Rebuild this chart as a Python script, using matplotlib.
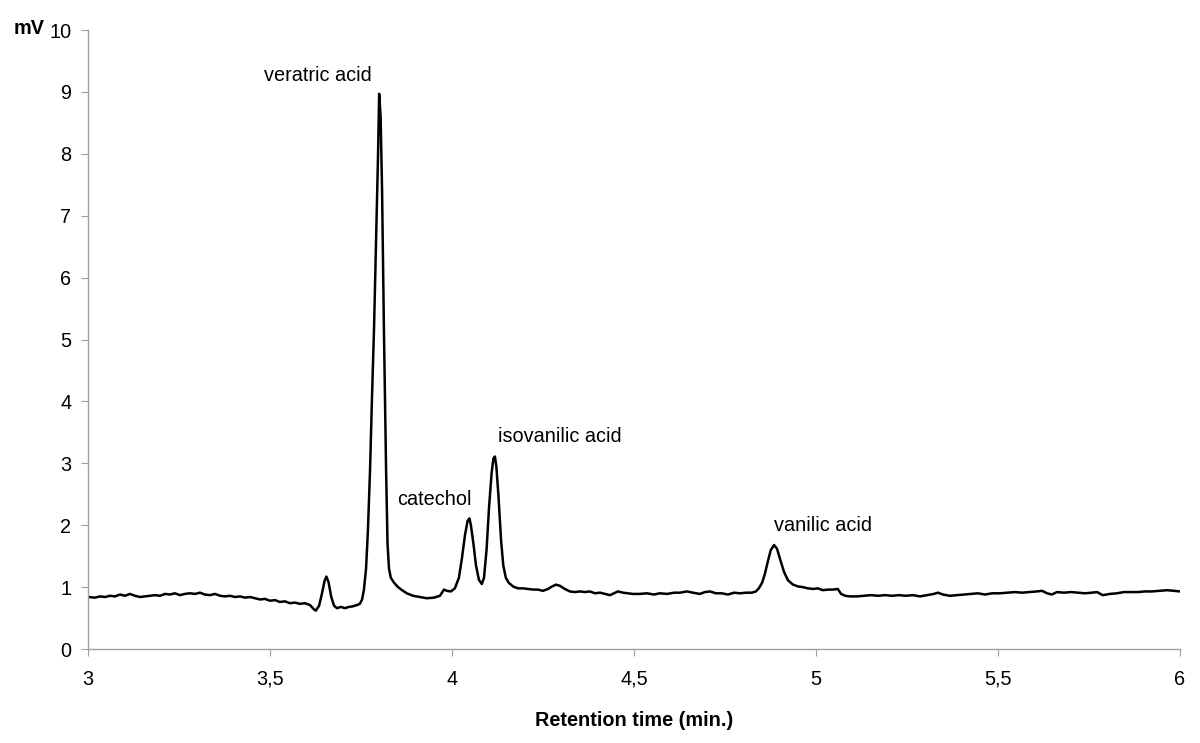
import matplotlib
matplotlib.use("Agg")
import matplotlib.pyplot as plt

plt.rcParams['font.family'] = ['Liberation Sans', 'DejaVu Sans']

# chromatogram trace (time in min, signal in mV)
time = [3.000, 3.019, 3.033, 3.047, 3.060, 3.074, 3.088, 3.102, 3.115, 3.129,
        3.143, 3.157, 3.170, 3.184, 3.198, 3.212, 3.225, 3.239, 3.253, 3.266,
        3.280, 3.294, 3.308, 3.321, 3.335, 3.349, 3.363, 3.376, 3.390, 3.404,
        3.418, 3.431, 3.445, 3.459, 3.473, 3.486, 3.500, 3.514, 3.527, 3.541,
        3.555, 3.569, 3.582, 3.596, 3.610, 3.621, 3.626, 3.635, 3.643, 3.650,
        3.655, 3.661, 3.668, 3.676, 3.684, 3.695, 3.706, 3.717, 3.728, 3.739,
        3.747, 3.753, 3.758, 3.764, 3.769, 3.775, 3.780, 3.786, 3.791, 3.797,
        3.800, 3.804, 3.808, 3.813, 3.819, 3.823, 3.827, 3.832, 3.841, 3.852,
        3.863, 3.876, 3.893, 3.912, 3.931, 3.951, 3.967, 3.978, 3.986, 3.997,
        4.008, 4.019, 4.027, 4.036, 4.043, 4.048, 4.052, 4.059, 4.066, 4.074,
        4.082, 4.088, 4.095, 4.102, 4.109, 4.114, 4.118, 4.122, 4.128, 4.135,
        4.141, 4.148, 4.156, 4.168, 4.181, 4.195, 4.209, 4.223, 4.236, 4.250,
        4.264, 4.275, 4.286, 4.297, 4.310, 4.324, 4.338, 4.352, 4.365, 4.379,
        4.393, 4.407, 4.420, 4.434, 4.445, 4.456, 4.470, 4.484, 4.497, 4.516,
        4.536, 4.555, 4.571, 4.591, 4.610, 4.626, 4.646, 4.662, 4.681, 4.695,
        4.709, 4.725, 4.742, 4.758, 4.775, 4.791, 4.808, 4.824, 4.835, 4.843,
        4.852, 4.860, 4.868, 4.876, 4.885, 4.893, 4.901, 4.912, 4.923, 4.937,
        4.951, 4.964, 4.978, 4.992, 5.005, 5.019, 5.033, 5.047, 5.060, 5.069,
        5.080, 5.093, 5.113, 5.132, 5.151, 5.170, 5.190, 5.209, 5.228, 5.247,
        5.266, 5.286, 5.305, 5.324, 5.335, 5.349, 5.368, 5.387, 5.407, 5.426,
        5.445, 5.464, 5.484, 5.505, 5.527, 5.547, 5.566, 5.588, 5.607, 5.621,
        5.635, 5.648, 5.662, 5.681, 5.701, 5.720, 5.739, 5.758, 5.772, 5.788,
        5.808, 5.827, 5.846, 5.865, 5.885, 5.904, 5.923, 5.945, 5.964, 5.984,
        6.000]
signal = [0.84, 0.83, 0.85, 0.84, 0.86, 0.85, 0.88, 0.86, 0.89, 0.86,
          0.84, 0.85, 0.86, 0.87, 0.86, 0.89, 0.88, 0.90, 0.87, 0.89,
          0.90, 0.89, 0.91, 0.88, 0.87, 0.89, 0.86, 0.85, 0.86, 0.84,
          0.85, 0.83, 0.84, 0.82, 0.80, 0.81, 0.78, 0.79, 0.76, 0.77,
          0.74, 0.75, 0.73, 0.74, 0.71, 0.64, 0.62, 0.70, 0.90, 1.10,
          1.17, 1.08, 0.85, 0.70, 0.66, 0.68, 0.66, 0.68, 0.69, 0.71,
          0.73, 0.80, 0.95, 1.30, 1.90, 2.90, 4.00, 5.20, 6.50, 8.00,
          8.97, 8.60, 7.40, 5.20, 2.90, 1.70, 1.30, 1.15, 1.07, 1.00,
          0.95, 0.90, 0.86, 0.84, 0.82, 0.83, 0.86, 0.96, 0.94, 0.93,
          0.98, 1.15, 1.45, 1.85, 2.07, 2.11, 2.00, 1.70, 1.35, 1.12,
          1.05, 1.15, 1.60, 2.30, 2.85, 3.08, 3.11, 2.95, 2.45, 1.75,
          1.35, 1.15, 1.07, 1.01, 0.98, 0.98, 0.97, 0.96, 0.96, 0.94,
          0.97, 1.01, 1.04, 1.02, 0.97, 0.93, 0.92, 0.93, 0.92, 0.93,
          0.90, 0.91, 0.89, 0.87, 0.90, 0.93, 0.91, 0.90, 0.89, 0.89,
          0.90, 0.88, 0.90, 0.89, 0.91, 0.91, 0.93, 0.91, 0.89, 0.92,
          0.93, 0.90, 0.90, 0.88, 0.91, 0.90, 0.91, 0.91, 0.93, 0.98,
          1.07, 1.22, 1.42, 1.60, 1.68, 1.62, 1.46, 1.25, 1.11, 1.04,
          1.01, 1.00, 0.98, 0.97, 0.98, 0.95, 0.96, 0.96, 0.97, 0.89,
          0.86, 0.85, 0.85, 0.86, 0.87, 0.86, 0.87, 0.86, 0.87, 0.86,
          0.87, 0.85, 0.87, 0.89, 0.91, 0.88, 0.86, 0.87, 0.88, 0.89,
          0.90, 0.88, 0.90, 0.90, 0.91, 0.92, 0.91, 0.92, 0.93, 0.94,
          0.90, 0.88, 0.92, 0.91, 0.92, 0.91, 0.90, 0.91, 0.92, 0.87,
          0.89, 0.90, 0.92, 0.92, 0.92, 0.93, 0.93, 0.94, 0.95, 0.94,
          0.93]

# peak labels
peak_names = ["veratric acid", "catechol", "isovanilic acid", "vanilic acid"]
label_x = [3.632, 3.953, 4.297, 5.019]
label_y = [9.27, 2.42, 3.44, 2.00]

xticks = [3, 3.5, 4, 4.5, 5, 5.5, 6]
xtick_labels = ["3", "3,5", "4", "4,5", "5", "5,5", "6"]
yticks = list(range(0, 11))

fs = 14.3

fig = plt.figure(figsize=(12, 7.43), dpi=100)
ax = fig.add_axes([0.0733, 0.1265, 0.91, 0.8331])

ax.plot(time, signal, color="black", linewidth=1.8)

for name, x, y in zip(peak_names, label_x, label_y):
    ax.text(x, y, name, ha="center", va="center", fontsize=fs)

ax.set_xlim(3, 6)
ax.set_ylim(0, 10)
ax.set_xticks(xticks)
ax.set_xticklabels(xtick_labels)
ax.set_yticks(yticks)

for side in ["top", "right"]:
    ax.spines[side].set_visible(False)
for side in ["left", "bottom"]:
    ax.spines[side].set_color("#a0a0a0")
    ax.spines[side].set_linewidth(1.0)
ax.tick_params(axis="both", direction="out", length=5, color="#a0a0a0",
               labelsize=fs)
ax.tick_params(axis="x", pad=10)
ax.tick_params(axis="y", pad=7)

ax.set_xlabel("Retention time (min.)", fontsize=fs, fontweight="bold", labelpad=16)
fig.text(0.011, 0.962, "mV", fontsize=fs, fontweight="bold", ha="left", va="center")

fig.savefig("out.png", dpi=100)
